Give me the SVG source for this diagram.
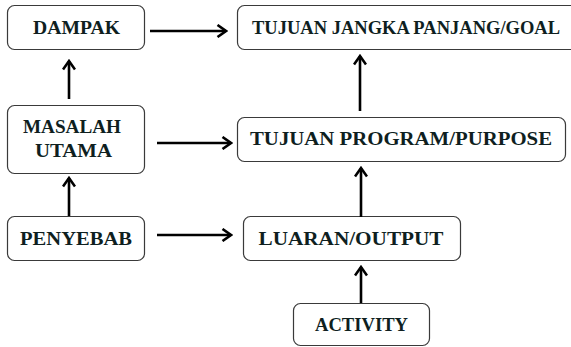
<svg xmlns="http://www.w3.org/2000/svg" width="571" height="347" viewBox="0 0 571 347">
  <style>
    .box { fill: #ffffff; stroke: #3a3a3a; stroke-width: 1.2; }
    .lbl { font-family: "Liberation Serif", "Times New Roman", serif; font-weight: 700; font-size: 18px; fill: #0f1f1f; text-anchor: middle; }
    .link { stroke: #000000; stroke-width: 2.6; fill: none; marker-end: url(#head); }
  </style>
  <defs>
    <marker id="head" viewBox="0 0 12 14" refX="10" refY="7" markerWidth="12" markerHeight="14" markerUnits="userSpaceOnUse" orient="auto">
      <path d="M1.5,1 L10,7 L1.5,13" fill="none" stroke="#000000" stroke-width="2.6" stroke-linejoin="miter"/>
    </marker>
  </defs>
  <rect width="571" height="347" fill="#ffffff"/>

  <g id="dampak">
    <rect class="box" x="7.5" y="5.5" width="137" height="44" rx="7"/>
    <text class="lbl" x="76.5" y="34" textLength="87" lengthAdjust="spacingAndGlyphs">DAMPAK</text>
  </g>
  <g id="goal">
    <rect class="box" x="237.5" y="5.5" width="340" height="44" rx="7"/>
    <text class="lbl" x="406" y="34" textLength="308" lengthAdjust="spacingAndGlyphs">TUJUAN JANGKA PANJANG/GOAL</text>
  </g>
  <g id="masalah-utama">
    <rect class="box" x="7.5" y="105.5" width="137" height="68" rx="7"/>
    <text class="lbl" x="72" y="133" textLength="98" lengthAdjust="spacingAndGlyphs">MASALAH</text>
    <text class="lbl" x="73.5" y="157" textLength="77" lengthAdjust="spacingAndGlyphs">UTAMA</text>
  </g>
  <g id="purpose">
    <rect class="box" x="237.5" y="117.5" width="328" height="44" rx="7"/>
    <text class="lbl" x="401" y="145" textLength="302" lengthAdjust="spacingAndGlyphs">TUJUAN PROGRAM/PURPOSE</text>
  </g>
  <g id="penyebab">
    <rect class="box" x="7.5" y="216.5" width="137" height="44" rx="7"/>
    <text class="lbl" x="76" y="245" textLength="112" lengthAdjust="spacingAndGlyphs">PENYEBAB</text>
  </g>
  <g id="output">
    <rect class="box" x="243.5" y="216.5" width="217" height="44" rx="7"/>
    <text class="lbl" x="351" y="245" textLength="185" lengthAdjust="spacingAndGlyphs">LUARAN/OUTPUT</text>
  </g>
  <g id="activity">
    <rect class="box" x="293.5" y="303.5" width="136" height="42" rx="7"/>
    <text class="lbl" x="361.5" y="331" textLength="93" lengthAdjust="spacingAndGlyphs">ACTIVITY</text>
  </g>

  <g id="connectors">
    <line class="link" x1="150" y1="31" x2="226" y2="31"/>
    <line class="link" x1="69" y1="99" x2="69" y2="61"/>
    <line class="link" x1="157" y1="143" x2="231" y2="143"/>
    <line class="link" x1="360" y1="111" x2="360" y2="56"/>
    <line class="link" x1="69" y1="216" x2="69" y2="178"/>
    <line class="link" x1="157" y1="235" x2="231" y2="235"/>
    <line class="link" x1="361" y1="217" x2="361" y2="168"/>
    <line class="link" x1="361" y1="303" x2="361" y2="267"/>
  </g>
</svg>
